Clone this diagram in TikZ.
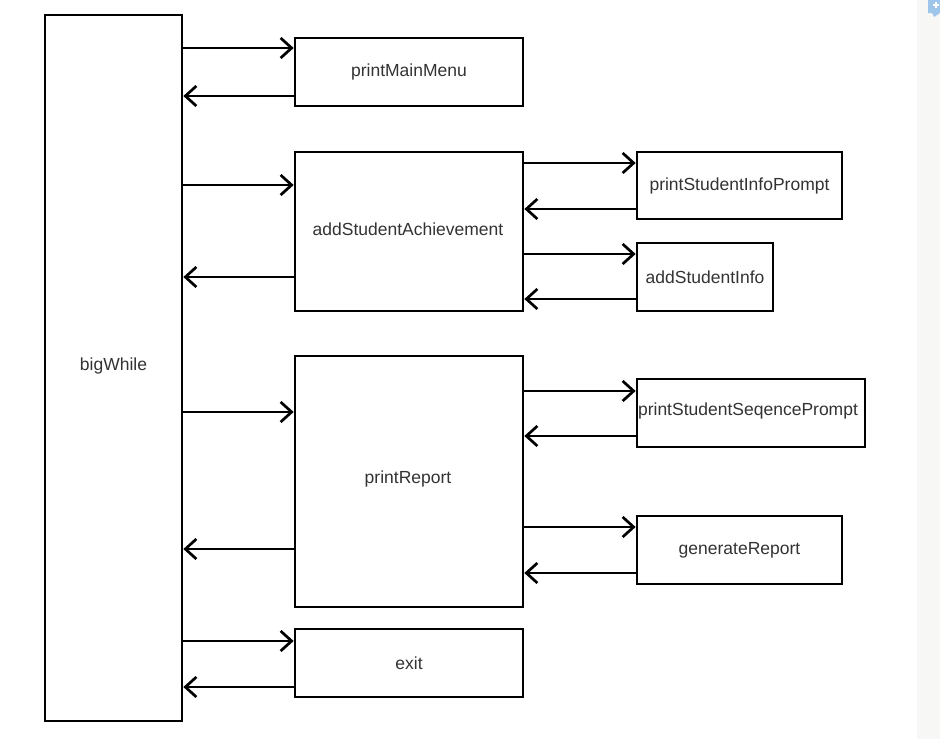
\documentclass[tikz,border=0pt]{standalone}
\usepackage{fontspec}
\setmainfont{Liberation Sans}
\usetikzlibrary{arrows.meta}
\definecolor{inkgray}{HTML}{333333}
\definecolor{sidebar}{HTML}{F7F8F5}
\definecolor{badge}{HTML}{9EC5EA}
\begin{document}
\begin{tikzpicture}[x=1pt,y=-1pt,
  label font/.style={font=\fontsize{17.5}{20}\selectfont, text=inkgray},
  block/.style={draw=black, line width=2.7pt, fill=white, inner sep=0pt, label font},
  call/.style={line width=2.7pt, -{Straight Barb[length=11pt,width=20pt,line width=2.7pt]}},
]
\useasboundingbox (0,0) rectangle (940,739);
\fill[white] (0,0) rectangle (940,739);
% side panel with its badge
\fill[sidebar] (917,0) rectangle (940,739);
\fill[badge] (928,0) rectangle (940,13) -- (934,17) -- (932,13) -- cycle;
\draw[white, line width=1.2pt] (936,2) -- (936,8) (933,5) -- (939,5);

% main loop
\node[block, minimum width=137pt, minimum height=706pt] (bigWhile) at (113.5,368) {};
\node[label font] (bigWhileLbl) at (113.5,366) {bigWhile};

% first-level functions
\node[block, minimum width=228pt, minimum height=68pt]  (pmm)  at (409,72)    {printMainMenu};
\node[block, minimum width=228pt, minimum height=159pt] (asa)  at (409,231.5) {};
\node[label font] (asaLbl) at (408,229) {addStudentAchievement};
\node[block, minimum width=228pt, minimum height=251pt] (pr)   at (409,481.5) {};
\node[label font] (prLbl) at (408,479) {printReport};
\node[block, minimum width=228pt, minimum height=68pt]  (ex)   at (409,663)   {exit};

% second-level functions
\node[block, minimum width=205pt, minimum height=67pt] (psip) at (739.5,185.5) {printStudentInfoPrompt};
\node[block, minimum width=136pt, minimum height=68pt] (asi)  at (705,277)     {addStudentInfo};
\node[block, minimum width=228pt, minimum height=68pt] (pssp) at (751,413)     {};
\node[label font] (psspLbl) at (748,411) {printStudentSeqencePrompt};
\node[block, minimum width=205pt, minimum height=68pt] (gr)   at (739.5,550)   {generateReport};

% calls and returns from the loop
\draw[call] (bigWhile.east |- 0,48)  -- (pmm.west |- 0,48);
\draw[call] (pmm.west |- 0,96)       -- (bigWhile.east |- 0,96);
\draw[call] (bigWhile.east |- 0,185) -- (asa.west |- 0,185);
\draw[call] (asa.west |- 0,277)      -- (bigWhile.east |- 0,277);
\draw[call] (bigWhile.east |- 0,412) -- (pr.west |- 0,412);
\draw[call] (pr.west |- 0,549)       -- (bigWhile.east |- 0,549);
\draw[call] (bigWhile.east |- 0,641) -- (ex.west |- 0,641);
\draw[call] (ex.west |- 0,687)       -- (bigWhile.east |- 0,687);

% calls and returns of the nested functions
\draw[call] (asa.east |- 0,163) -- (psip.west |- 0,163);
\draw[call] (psip.west |- 0,209) -- (asa.east |- 0,209);
\draw[call] (asa.east |- 0,254) -- (asi.west |- 0,254);
\draw[call] (asi.west |- 0,299) -- (asa.east |- 0,299);
\draw[call] (pr.east |- 0,391)  -- (pssp.west |- 0,391);
\draw[call] (pssp.west |- 0,436) -- (pr.east |- 0,436);
\draw[call] (pr.east |- 0,527)  -- (gr.west |- 0,527);
\draw[call] (gr.west |- 0,573)  -- (pr.east |- 0,573);
\end{tikzpicture}
\end{document}
